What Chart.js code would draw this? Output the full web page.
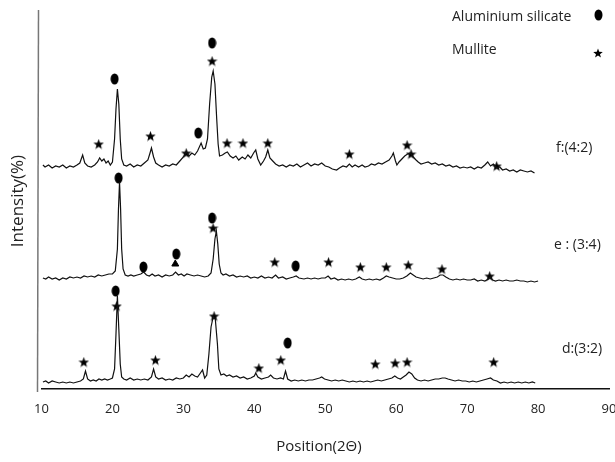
<!DOCTYPE html>
<html>
<head>
<meta charset="utf-8">
<script src="https://cdn.jsdelivr.net/npm/chart.js@4"></script>
<style>
  html, body { margin: 0; padding: 0; background: #fff; }
  #box { width: 615px; height: 462px; }
</style>
</head>
<body>
<div id="box"><canvas id="grafico"></canvas></div>
<script>
// valores: [2theta, intensidade (unidades arbitrarias, empilhadas)]
const traceF = [
  [10.2,224],[10.5,222],[11,224],[11.5,221],[12,223],[12.5,222],[13,224],[13.5,221],[14,223],[14.5,222],
  [15,224],[15.4,226],[15.8,234],[16.1,226],[16.5,223],[17,222],[17.5,224],[17.9,227],[18.2,231],[18.5,228],
  [18.8,230],[19.1,226],[19.4,228],[19.7,224],[20,227],[20.3,250],[20.5,280],[20.7,300],[20.9,285],[21.1,250],
  [21.3,230],[21.6,224],[22,223],[22.5,225],[23,222],[23.5,224],[24,223],[24.5,226],[25,229],[25.3,236],
  [25.5,241],[25.8,232],[26.1,226],[26.5,224],[27,222],[27.5,224],[28,223],[28.5,225],[29,224],[29.5,228],
  [30,232],[30.4,237],[30.8,233],[31.2,236],[31.6,234],[32,238],[32.5,246],[32.8,240],[33.1,241],[33.4,250],
  [33.7,285],[34,312],[34.2,318],[34.45,305],[34.7,270],[34.9,245],[35.1,233],[35.5,234],[35.9,236],[36.2,237],
  [36.6,233],[37,231],[37.4,233],[37.8,229],[38.3,232],[38.7,230],[39.1,234],[39.5,231],[39.9,236],[40.2,239],
  [40.5,230],[40.9,224],[41.3,228],[41.6,232],[41.9,239],[42.2,231],[42.6,228],[43,225],[43.5,223],[44,224],
  [44.5,222],[45,224],[45.5,223],[46,225],[46.5,222],[47,224],[47.5,226],[48,223],[48.5,225],[49,224],
  [49.5,226],[50,223],[50.5,222],[51,220],[51.6,219],[52,221],[52.5,223],[53,222],[53.4,225],[53.8,222],
  [54.2,224],[54.7,222],[55.2,224],[55.6,222],[56.1,223],[56.5,225],[57,224],[57.5,226],[58,225],[58.5,227],
  [59,229],[59.4,233],[59.6,236],[59.9,228],[60.1,224],[60.4,227],[60.8,230],[61.2,233],[61.6,235],[62,236],
  [62.4,232],[62.8,229],[63.1,227],[63.5,225],[64,226],[64.5,227],[65,225],[65.5,226],[66,224],[66.5,225],
  [67,223],[67.5,224],[68,222],[68.5,223],[69,221],[69.5,222],[70,221],[70.5,222],[71,220],[71.5,222],
  [72,221],[72.5,224],[72.9,227],[73.3,223],[73.7,225],[74.2,221],[74.6,222],[75,219],[75.5,220],[76,218],
  [76.5,219],[77,217],[77.5,219],[78,218],[78.5,217],[79,218],[79.5,216]
];

const traceE = [
  [10.2,111],[10.6,110],[11,112],[11.5,110],[12,111],[12.5,109],[13,111],[13.5,110],[14,112],[14.5,111],
  [15,112],[15.5,111],[16,113],[16.5,112],[17,113],[17.5,112],[18,114],[18.5,113],[19,114],[19.5,115],
  [20,115],[20.4,118],[20.7,140],[20.85,180],[21,207],[21.15,180],[21.3,140],[21.5,120],[21.8,114],[22.2,113],
  [22.6,114],[23,113],[23.5,114],[24,115],[24.4,117],[24.8,114],[25.2,113],[25.6,115],[26,113],[26.5,114],
  [27,112],[27.5,114],[28,113],[28.5,114],[28.9,117],[29.3,114],[29.7,115],[30.1,113],[30.5,115],[31,114],
  [31.5,113],[32,114],[32.5,113],[33,112],[33.5,113],[33.9,116],[34.2,130],[34.45,150],[34.65,158],[34.85,145],
  [35.05,125],[35.3,116],[35.6,114],[36,115],[36.5,113],[37,114],[37.5,112],[38,113],[38.5,112],[39,113],
  [39.5,111],[40,112],[40.5,111],[41,113],[41.5,111],[42,112],[42.5,111],[43,114],[43.4,111],[44,112],
  [44.5,110],[45,111],[45.5,112],[45.9,113],[46.3,111],[47,110],[47.5,111],[48,110],[48.5,111],[49,110],
  [49.5,111],[50,111],[50.4,113],[50.8,110],[51.3,111],[51.8,109],[52.3,110],[52.8,109],[53.3,110],[53.8,109],
  [54.3,110],[54.8,112],[55.2,110],[55.7,109],[56.2,110],[56.7,109],[57.2,110],[57.7,109],[58.2,111],[58.6,113],
  [59,112],[59.5,111],[60,110],[60.5,110],[61,111],[61.5,113],[62,116],[62.4,114],[62.8,112],[63.3,111],
  [63.8,110],[64.3,111],[64.8,110],[65.3,111],[65.8,112],[66.2,114],[66.6,114],[67,112],[67.5,110],[68,109],
  [68.5,110],[69,109],[69.5,110],[70,109],[70.5,109],[71,110],[71.5,108],[72,109],[72.5,108],[73,110],
  [73.3,112],[73.6,109],[74,108],[74.5,109],[75,108],[75.5,109],[76,108],[76.5,108],[77,109],[77.5,108],
  [78,108],[78.5,107],[79,108],[79.5,107],[80,108]
];

const traceD = [
  [10.2,7],[10.6,8],[11,6],[11.5,8],[12,7],[12.5,6],[13,7],[13.5,6],[14,7],[14.5,6],
  [15,7],[15.5,8],[15.9,10],[16.2,18],[16.5,10],[16.9,8],[17.3,9],[17.7,8],[18.1,10],[18.5,9],
  [18.9,10],[19.3,9],[19.7,10],[20,11],[20.3,20],[20.5,55],[20.7,93],[20.9,60],[21.1,25],[21.3,12],
  [21.6,10],[22,9],[22.5,11],[23,9],[23.5,10],[24,9],[24.5,10],[25,9],[25.5,12],[25.8,20],
  [26.1,12],[26.5,10],[27,11],[27.5,9],[28,10],[28.5,9],[29,11],[29.5,10],[30,11],[30.4,14],
  [30.8,12],[31.2,15],[31.6,13],[32,12],[32.4,16],[32.7,19],[33,11],[33.3,14],[33.6,35],[33.9,62],
  [34.2,72],[34.5,70],[34.8,45],[35,20],[35.3,14],[35.7,15],[36.1,13],[36.5,14],[37,12],[37.5,13],
  [38,11],[38.5,12],[39,10],[39.5,11],[40,13],[40.2,16],[40.5,12],[41,10],[41.5,11],[42,12],
  [42.3,14],[42.7,11],[43.2,10],[43.7,11],[44.1,10],[44.4,18],[44.7,10],[45.2,8],[45.7,9],[46.2,8],
  [46.7,9],[47.2,8],[47.7,9],[48.2,9],[48.7,10],[49.2,11],[49.5,12],[49.9,10],[50.4,9],[50.9,8],
  [51.4,9],[51.9,8],[52.4,9],[52.9,8],[53.4,7],[53.9,8],[54.4,7],[54.9,8],[55.4,7],[55.9,8],
  [56.4,7],[56.9,8],[57.4,9],[57.9,8],[58.4,9],[58.9,10],[59.4,11],[59.8,13],[60.2,11],[60.6,10],
  [61,12],[61.4,14],[61.8,17],[62.2,15],[62.6,11],[63,9],[63.5,8],[64,9],[64.5,8],[65,9],
  [65.5,10],[66,10],[66.5,11],[66.9,11],[67.3,10],[67.8,9],[68.3,8],[68.8,9],[69.3,8],[69.8,8],
  [70.3,7],[70.8,8],[71.3,7],[71.8,8],[72.3,9],[72.8,10],[73.3,11],[73.7,9],[74.2,8],[74.7,6],
  [75.2,7],[75.7,6],[76.2,7],[76.7,6],[77.2,7],[77.7,6],[78.2,7],[78.7,6],[79.2,7],[79.6,6]
];

// marcadores das fases
const circulos = [
  [20.3,310],[32.1,256],[34.05,346],
  [20.87,211],[24.37,122],[29.0,135],[34.05,171],[45.83,123],
  [20.45,98],[44.7,46]
];
const estrelas = [
  [34.05,328],[18.06,245],[25.36,253],[30.4,236],[36.15,246],[38.4,246],[41.9,246],[53.4,235],[61.54,244],[62.1,235],[74.16,223],
  [34.19,161],[42.88,127],[50.46,127],[54.95,122],[58.6,122],[61.7,124],[66.45,120],[73.18,113],
  [20.59,83],[15.96,27],[26.06,29],[34.33,73],[40.64,21],[43.73,29],[57.05,25],[59.85,26],[61.54,27],[73.74,27]
];
const triangulos = [[28.86,125]];

const ticksX = [10, 20, 30, 40, 50, 60, 70, 80, 90];
const nomesAmostras = ["f:(4:2)", "e : (3:4)", "d:(3:2)"];

function pares(lista) {
  return lista.map(function (p) { return { x: p[0], y: p[1] }; });
}

function desenharElipse() {
  let c = document.createElement("canvas");
  c.width = 9; c.height = 12;
  let g = c.getContext("2d");
  g.fillStyle = "#000";
  g.beginPath();
  g.ellipse(4.5, 6, 4, 5.5, 0, 0, Math.PI * 2);
  g.fill();
  return c;
}

function desenharEstrela(tam) {
  let c = document.createElement("canvas");
  c.width = tam; c.height = tam;
  let g = c.getContext("2d");
  let r = tam / 2, ri = r * 0.42;
  g.fillStyle = "#000";
  g.beginPath();
  for (let i = 0; i < 10; i++) {
    let a = -Math.PI / 2 + i * Math.PI / 5;
    let rr = i % 2 === 0 ? r : ri;
    let px = r + rr * Math.cos(a), py = r + 0.5 + rr * Math.sin(a);
    if (i === 0) g.moveTo(px, py); else g.lineTo(px, py);
  }
  g.closePath();
  g.fill();
  return c;
}

const imgCirculo = desenharElipse();
const imgEstrela = desenharEstrela(11);

function linha(dados) {
  return {
    type: "line",
    data: pares(dados),
    borderColor: "#111",
    borderWidth: 1.2,
    pointRadius: 0,
    tension: 0,
    fill: false
  };
}

const textos = {
  id: "textos",
  afterDraw: function (chart) {
    let ctx = chart.ctx;
    ctx.save();
    // eixo vertical
    ctx.strokeStyle = "#777";
    ctx.lineWidth = 1.5;
    ctx.beginPath();
    ctx.moveTo(38.5, 10);
    ctx.lineTo(37.5, 392);
    ctx.stroke();

    ctx.fillStyle = "#222";
    ctx.textBaseline = "middle";
    ctx.font = "14px 'Open Sans'";
    ctx.textAlign = "left";
    ctx.fillText("Aluminium silicate", 452, 17);
    ctx.fillText("Mullite", 452, 50);
    ctx.fillText(nomesAmostras[0], 556, 148);
    ctx.fillText(nomesAmostras[1], 554, 245);
    ctx.fillText(nomesAmostras[2], 562, 349);

    ctx.drawImage(imgCirculo, 594, 9);
    ctx.drawImage(desenharEstrela(10), 593, 48);

    ctx.textAlign = "center";
    ctx.font = "15px 'Open Sans'";
    ctx.fillText("Position(2\u0398)", 319, 447);

    ctx.translate(18, 201);
    ctx.rotate(-Math.PI / 2);
    ctx.font = "17px 'Open Sans'";
    ctx.fillText("Intensity(%)", 0, 0);
    ctx.restore();
  }
};

const ctx = document.getElementById("grafico").getContext("2d");

new Chart(ctx, {
  type: "scatter",
  data: {
    datasets: [
      linha(traceF),
      linha(traceE),
      linha(traceD),
      { data: pares(circulos), pointStyle: imgCirculo, pointRadius: 5 },
      { data: pares(estrelas), pointStyle: imgEstrela, pointRadius: 5 },
      { data: pares(triangulos), pointStyle: "triangle", pointRadius: 4, backgroundColor: "#000", borderColor: "#000" }
    ]
  },
  options: {
    responsive: true,
    maintainAspectRatio: false,
    animation: false,
    layout: { padding: { left: 41.5, right: 3, top: 10, bottom: 0 } },
    plugins: {
      legend: { display: false },
      tooltip: { enabled: false }
    },
    scales: {
      x: {
        type: "linear",
        min: 10,
        max: 90,
        afterBuildTicks: function (s) {
          s.ticks = ticksX.map(function (v) { return { value: v }; });
        },
        afterFit: function (s) {
          s.height = 73;
          s.paddingLeft = 0;
          s.paddingRight = 0;
        },
        grid: { display: false, drawTicks: false },
        border: { display: true, color: "#111", width: 1.5 },
        ticks: {
          padding: 12,
          color: "#222",
          font: { family: "'Open Sans'", size: 13 },
          maxRotation: 0
        }
      },
      y: {
        display: false,
        min: 0,
        max: 379
      }
    }
  },
  plugins: [textos]
});
</script>
</body>
</html>
